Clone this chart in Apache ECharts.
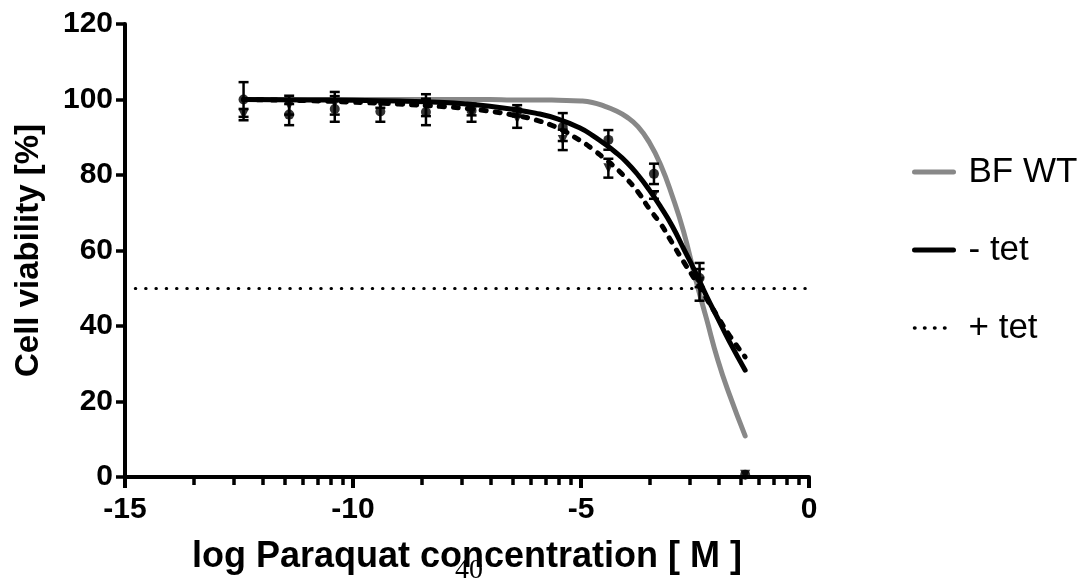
<!DOCTYPE html>
<html>
<head>
<meta charset="utf-8">
<script src="https://cdn.jsdelivr.net/npm/echarts@6/dist/echarts.min.js"></script>
<style>
  html, body { margin: 0; padding: 0; background: #fff; }
  #chart { width: 1091px; height: 581px; }
</style>
</head>
<body>
<div id="chart"></div>
<script>
// fitted curves
const curveX = [-12.4, -11, -10, -9, -8, -7.5, -7, -6.5, -6, -5.5, -5, -4.75, -4.5, -4.25, -4, -3.75, -3.5, -3.25, -3, -2.75, -2.5, -2.25, -2, -1.75, -1.4]
const wtCurve = [100, 100, 100, 100, 100, 100, 100, 99.9, 99.9, 99.8, 99.6, 99.2, 98.3, 97.1, 95.4, 92.8, 88.6, 82.6, 74.5, 65, 53, 42, 31, 22, 10.9]
const minusCurve = [100, 99.9, 99.8, 99.6, 99.2, 98.8, 98.2, 97.4, 96.4, 94.8, 92.3, 90.5, 88.4, 86.1, 83.4, 80, 76, 71.5, 66.5, 60.5, 54.5, 48, 42, 36, 28.3]
const plusCurve = [100, 99.7, 99.3, 98.8, 98.1, 97.6, 96.9, 95.9, 94.6, 92.4, 89, 86.9, 84.5, 82, 79, 75.5, 71, 67, 62, 57, 52.3, 47.3, 42.4, 37.6, 31.8]

// measured points (mean and error)
const ptX = [-12.4, -11.4, -10.4, -9.4, -8.4, -7.4, -6.4, -5.4, -4.4, -3.4, -2.4, -1.4]
const minusPts = [100, 96, 97.5, 96.8, 96.7, 97, 97, 92.7, 89.3, 80.3, 52.7, 0.6]
const minusErr = [4.6, 2.8, 3.4, 2.7, 3.5, 1.2, 1.5, 3.7, 2.6, 2.7, 2.4, 0]
const plusPts = [96, 98.5, 99, 98.8, 98.5, 96.5, 95, 89.3, 81.8, 74.7, 51.7, 0.6]
const plusErr = [1.5, 2.5, 3, 1, 2.9, 2.4, 2.5, 2.7, 2.5, 1, 5, 0]

const halfLine = 50
const xTicks = [-15, -10, -5, 0]
const yTicks = [0, 20, 40, 60, 80, 100, 120]

// log-style minor ticks inside each 5-unit step
const minorTicks = []
for (let d = -15; d < 0; d += 5) {
  for (let k = 2; k <= 9; k++) minorTicks.push(d + 5 * Math.log10(k))
}

const font = 'Liberation Sans, Arial, sans-serif'
const pairs = (xs, ys) => xs.map((x, i) => [x, ys[i]])

function errorBars(vals, errs) {
  return {
    type: 'custom',
    silent: true,
    z: 3,
    encode: { x: 0, y: 1 },
    data: ptX.map((x, i) => [x, vals[i], errs[i]]),
    renderItem(params, api) {
      const x = api.value(0), y = api.value(1), e = api.value(2)
      if (!e) return null
      const top = api.coord([x, y + e])
      const bot = api.coord([x, y - e])
      const st = { stroke: '#000', lineWidth: 2.5 }
      return {
        type: 'group',
        children: [
          { type: 'line', shape: { x1: top[0], y1: top[1], x2: bot[0], y2: bot[1] }, style: st },
          { type: 'line', shape: { x1: top[0] - 5, y1: top[1], x2: top[0] + 5, y2: top[1] }, style: st },
          { type: 'line', shape: { x1: bot[0] - 5, y1: bot[1], x2: bot[0] + 5, y2: bot[1] }, style: st }
        ]
      }
    }
  }
}

const chart = echarts.init(document.getElementById('chart'))
chart.setOption({
  animation: false,
  grid: { left: 125, right: 282, top: 24, bottom: 104 },
  legend: {
    orient: 'vertical',
    left: 907,
    top: 147,
    itemWidth: 39,
    itemHeight: 14,
    itemGap: 38,
    selectedMode: false,
    itemStyle: { opacity: 0 },
    lineStyle: { width: 5 },
    textStyle: { fontFamily: font, fontSize: 35, lineHeight: 40, color: '#000', padding: [0, 0, 0, 10] },
    data: [
      { name: 'BF WT' },
      { name: '- tet' },
      { name: '+ tet', lineStyle: { type: [0.5, 9.5], cap: 'round', width: 3.5 } }
    ]
  },
  xAxis: [{
    type: 'value',
    min: -15,
    max: 0,
    interval: 5,
    name: 'log Paraquat concentration [ M ]',
    nameLocation: 'middle',
    nameGap: 62,
    nameTextStyle: { fontFamily: font, fontWeight: 'bold', fontSize: 36, color: '#000' },
    axisLine: { onZero: false, lineStyle: { color: '#000', width: 4 } },
    axisTick: { customValues: xTicks, length: 11, lineStyle: { color: '#000', width: 4 } },
    axisLabel: { customValues: xTicks, margin: 18, fontFamily: font, fontWeight: 'bold', fontSize: 30, color: '#000' },
    splitLine: { show: false }
  }, {
    type: 'value',
    min: -15,
    max: 0,
    position: 'bottom',
    offset: 0,
    axisLine: { show: false, onZero: false },
    axisTick: { customValues: minorTicks, length: 8, lineStyle: { color: '#000', width: 3.5 } },
    axisLabel: { show: false },
    splitLine: { show: false }
  }],
  yAxis: {
    type: 'value',
    min: 0,
    max: 120,
    interval: 20,
    name: 'Cell viability [%]',
    nameLocation: 'middle',
    nameGap: 80,
    nameTextStyle: { fontFamily: font, fontWeight: 'bold', fontSize: 33, color: '#000' },
    axisLine: { show: true, onZero: false, lineStyle: { color: '#000', width: 4 } },
    axisTick: { show: true, customValues: yTicks, length: 9, lineStyle: { color: '#000', width: 3.5 } },
    axisLabel: { customValues: yTicks, margin: 12, fontFamily: font, fontWeight: 'bold', fontSize: 30, color: '#000' },
    splitLine: { show: false }
  },
  series: [
    {
      name: 'BF WT',
      type: 'line',
      data: pairs(curveX, wtCurve),
      smooth: 0.5,
      symbol: 'none',
      lineStyle: { color: '#888888', width: 5, cap: 'round' },
      itemStyle: { color: '#888888' },
      z: 2,
      markLine: {
        silent: true,
        symbol: 'none',
        label: { show: false },
        lineStyle: { color: '#000', width: 3, type: [0.5, 9.8], cap: 'round' },
        data: [{ yAxis: halfLine }]
      }
    },
    {
      name: '- tet',
      type: 'line',
      data: pairs(curveX, minusCurve),
      smooth: 0.5,
      symbol: 'none',
      lineStyle: { color: '#000', width: 5, cap: 'round' },
      itemStyle: { color: '#000' },
      z: 2
    },
    {
      name: '+ tet',
      type: 'line',
      data: pairs(curveX, plusCurve),
      smooth: 0.5,
      symbol: 'none',
      lineStyle: { color: '#000', width: 5, type: [5, 9], cap: 'round' },
      itemStyle: { color: '#000' },
      z: 2
    },
    errorBars(minusPts, minusErr),
    errorBars(plusPts, plusErr),
    {
      type: 'scatter',
      data: pairs(ptX, minusPts),
      symbol: 'circle',
      symbolSize: 10,
      itemStyle: { color: '#000' },
      z: 4
    },
    {
      type: 'scatter',
      data: pairs(ptX, plusPts),
      symbol: 'triangle',
      symbolRotate: 180,
      symbolSize: 10,
      itemStyle: { color: '#000' },
      z: 4
    }
  ],
  graphic: [{
    type: 'text',
    left: 455,
    top: 557,
    z: 10,
    style: { text: '40', font: '28px "Liberation Serif", "Times New Roman", serif', fill: '#000' }
  }]
})
</script>
</body>
</html>
